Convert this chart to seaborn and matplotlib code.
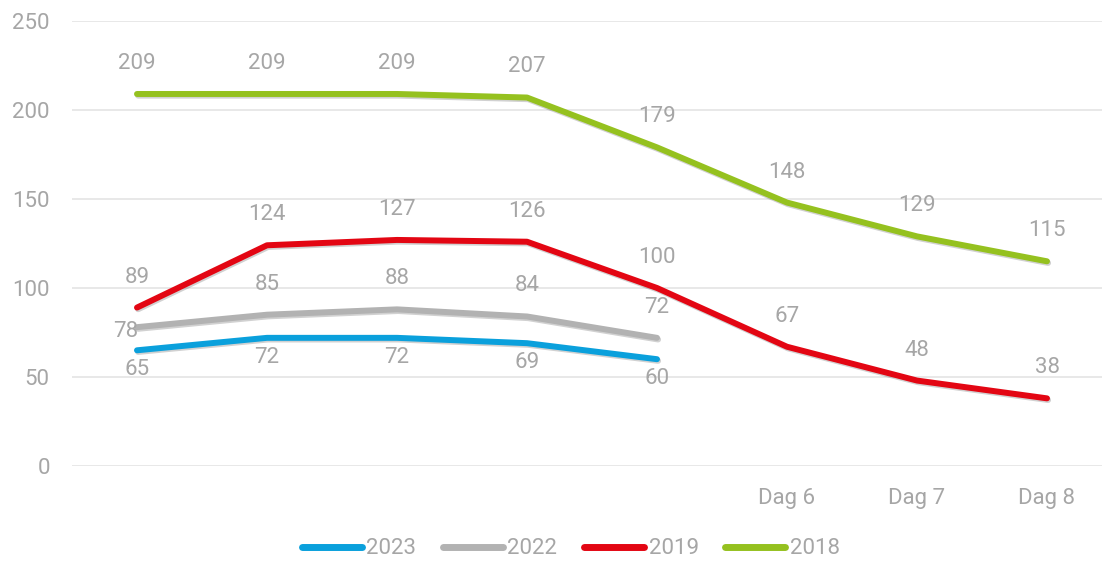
import pandas as pd
import seaborn as sns
import matplotlib.pyplot as plt
import matplotlib.patheffects as pe

# data
days = ["Dag 1", "Dag 2", "Dag 3", "Dag 4", "Dag 5", "Dag 6", "Dag 7", "Dag 8"]
tick_labels = ["", "", "", "", "", "Dag 6", "Dag 7", "Dag 8"]
y2023 = [65, 72, 72, 69, 60]
y2022 = [78, 85, 88, 84, 72]
y2019 = [89, 124, 127, 126, 100, 67, 48, 38]
y2018 = [209, 209, 209, 207, 179, 148, 129, 115]

series = {"2023": y2023, "2022": y2022, "2019": y2019, "2018": y2018}
palette = {"2023": "#0AA0DC", "2022": "#B2B2B2", "2019": "#E30613", "2018": "#95C11F"}
grey = "#A6A6A6"
fs = 16

rows = []
for name, vals in series.items():
    for i, v in enumerate(vals):
        rows.append({"Dag": i, "Waarde": v, "Jaar": name})
df = pd.DataFrame(rows)

sns.set_theme(style="white")
plt.rcParams["font.family"] = ["Roboto", "DejaVu Sans"]

fig = plt.figure(figsize=(11.02, 5.65), dpi=100)
ax = fig.add_axes([72 / 1102, 1 - 466 / 565, 1040 / 1102, 445 / 565])

sns.lineplot(
    data=df, x="Dag", y="Waarde", hue="Jaar", hue_order=list(series.keys()),
    palette=palette, linewidth=4.3, ax=ax, legend=False, zorder=3,
    solid_capstyle="round",
)
for line in ax.get_lines():
    line.set_path_effects([
        pe.SimpleLineShadow(offset=(0.8, -1.2), shadow_color="#000000", alpha=0.18),
        pe.Normal(),
    ])

# data labels
for name, vals in series.items():
    for i, v in enumerate(vals):
        if name == "2023":
            off, ha = (0, -14), "center"
        elif name == "2022" and i == 0:
            off, ha = (1, -3), "right"
        else:
            off, ha = (0, 22), "center"
        ax.annotate(str(v), (i, v), xytext=off, textcoords="offset points",
                    ha=ha, va="center", fontsize=fs, color=grey, zorder=4)

ax.set_xlim(-0.5, 7.5)
ax.set_ylim(0, 250)
ax.set_yticks([0, 50, 100, 150, 200, 250])
ax.set_xticks(range(len(days)))
ax.set_xticklabels(tick_labels)
ax.set_xlabel("")
ax.set_ylabel("")
ax.grid(axis="y", color="#E6E6E6", linewidth=1.3)
ax.set_axisbelow(True)
for s in ax.spines.values():
    s.set_visible(False)
ax.tick_params(axis="y", length=0, pad=16, labelsize=fs, labelcolor=grey)
ax.tick_params(axis="x", length=0, pad=16, labelsize=fs, labelcolor=grey)

handles = [plt.Line2D([], [], color=palette[n], linewidth=5, solid_capstyle="round")
           for n in series]
leg = fig.legend(handles, list(series.keys()), loc="center", bbox_to_anchor=(0.518, 1 - 549 / 565),
                 ncol=4, frameon=False, fontsize=fs, handlelength=2.7,
                 handletextpad=0.2, columnspacing=1.2)
for t in leg.get_texts():
    t.set_color(grey)

fig.savefig("out.png", dpi=100)
